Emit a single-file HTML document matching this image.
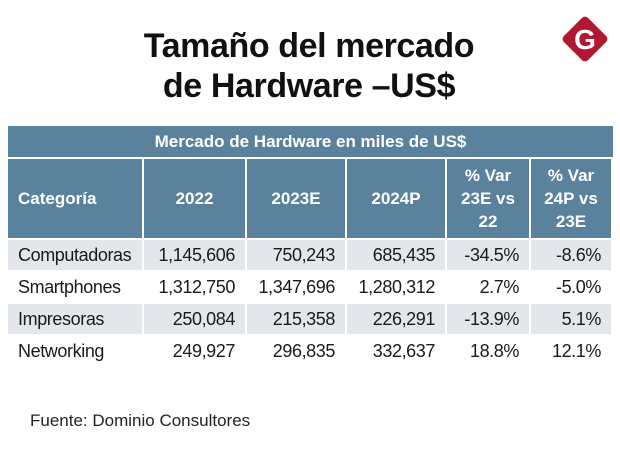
<!DOCTYPE html>
<html><head><meta charset="utf-8"><style>
body{margin:0;width:620px;height:456px;background:#fff;font-family:"Liberation Sans",sans-serif;position:relative;overflow:hidden}
.t{position:absolute;left:0;width:618px;text-align:center;font-weight:bold;font-size:34px;color:#111;letter-spacing:-0.4px}
.c{position:absolute;box-sizing:border-box;display:flex;align-items:center;font-size:18px;color:#1a1a1a;padding:0 10px 0 10px;white-space:nowrap;letter-spacing:-0.4px}
.h{background:#5b829c;color:#fff;font-weight:bold;font-size:17px;justify-content:center;text-align:center;line-height:23px;letter-spacing:0}
.l{justify-content:flex-start}
.r{justify-content:flex-end}
.s{background:#e3e7eb}
</style></head><body>
<div class="t" style="top:27px">Tamaño del mercado</div>
<div class="t" style="top:67px">de Hardware –US$</div>
<svg style="position:absolute;left:558px;top:12px" width="54" height="54" viewBox="0 0 54 54"><rect x="10" y="10" width="34" height="34" rx="4" transform="rotate(45 27 27)" fill="#b0182f"/><text x="27" y="37" text-anchor="middle" font-family="Liberation Sans" font-weight="bold" font-size="28" fill="#fff">G</text></svg>
<div id="tbl"></div>
<div style="position:absolute;left:30px;top:411px;font-size:17px;color:#222">Fuente: Dominio Consultores</div>
<script>
const headers=["Categoría","2022","2023E","2024P","% Var<br>23E vs<br>22","% Var<br>24P vs<br>23E"];
const categories=["Computadoras","Smartphones","Impresoras","Networking"];
const v2022=["1,145,606","1,312,750","250,084","249,927"];
const v2023=["750,243","1,347,696","215,358","296,835"];
const v2024=["685,435","1,280,312","226,291","332,637"];
const var23=["-34.5%","2.7%","-13.9%","18.8%"];
const var24=["-8.6%","-5.0%","5.1%","12.1%"];
const xs=[8,144,247,347,447,531,613];
const root=document.getElementById('tbl');
function cell(x,y,w,h,html,cls,name){const d=document.createElement('div');d.className='c '+cls;d.style.left=x+'px';d.style.top=y+'px';d.style.width=w+'px';d.style.height=h+'px';d.innerHTML=html;


root.appendChild(d);}
cell(8,126,605,31,'Mercado de Hardware en miles de US$','h','table-title');
headers.forEach((t,i)=>cell(xs[i],159,xs[i+1]-xs[i]-2,79,t,'h'+(i==0?' l':''),'header-'+i));
const cols=[categories,v2022,v2023,v2024,var23,var24];
categories.forEach((c,r)=>{const y=240+r*32;
cols.forEach((col,i)=>cell(xs[i],y,xs[i+1]-xs[i]-2,30,col[r],(i>0?'r ':'l ')+(r%2==0?'s':''),'cell-r'+r+'-c'+i));});
</script>
</body></html>
